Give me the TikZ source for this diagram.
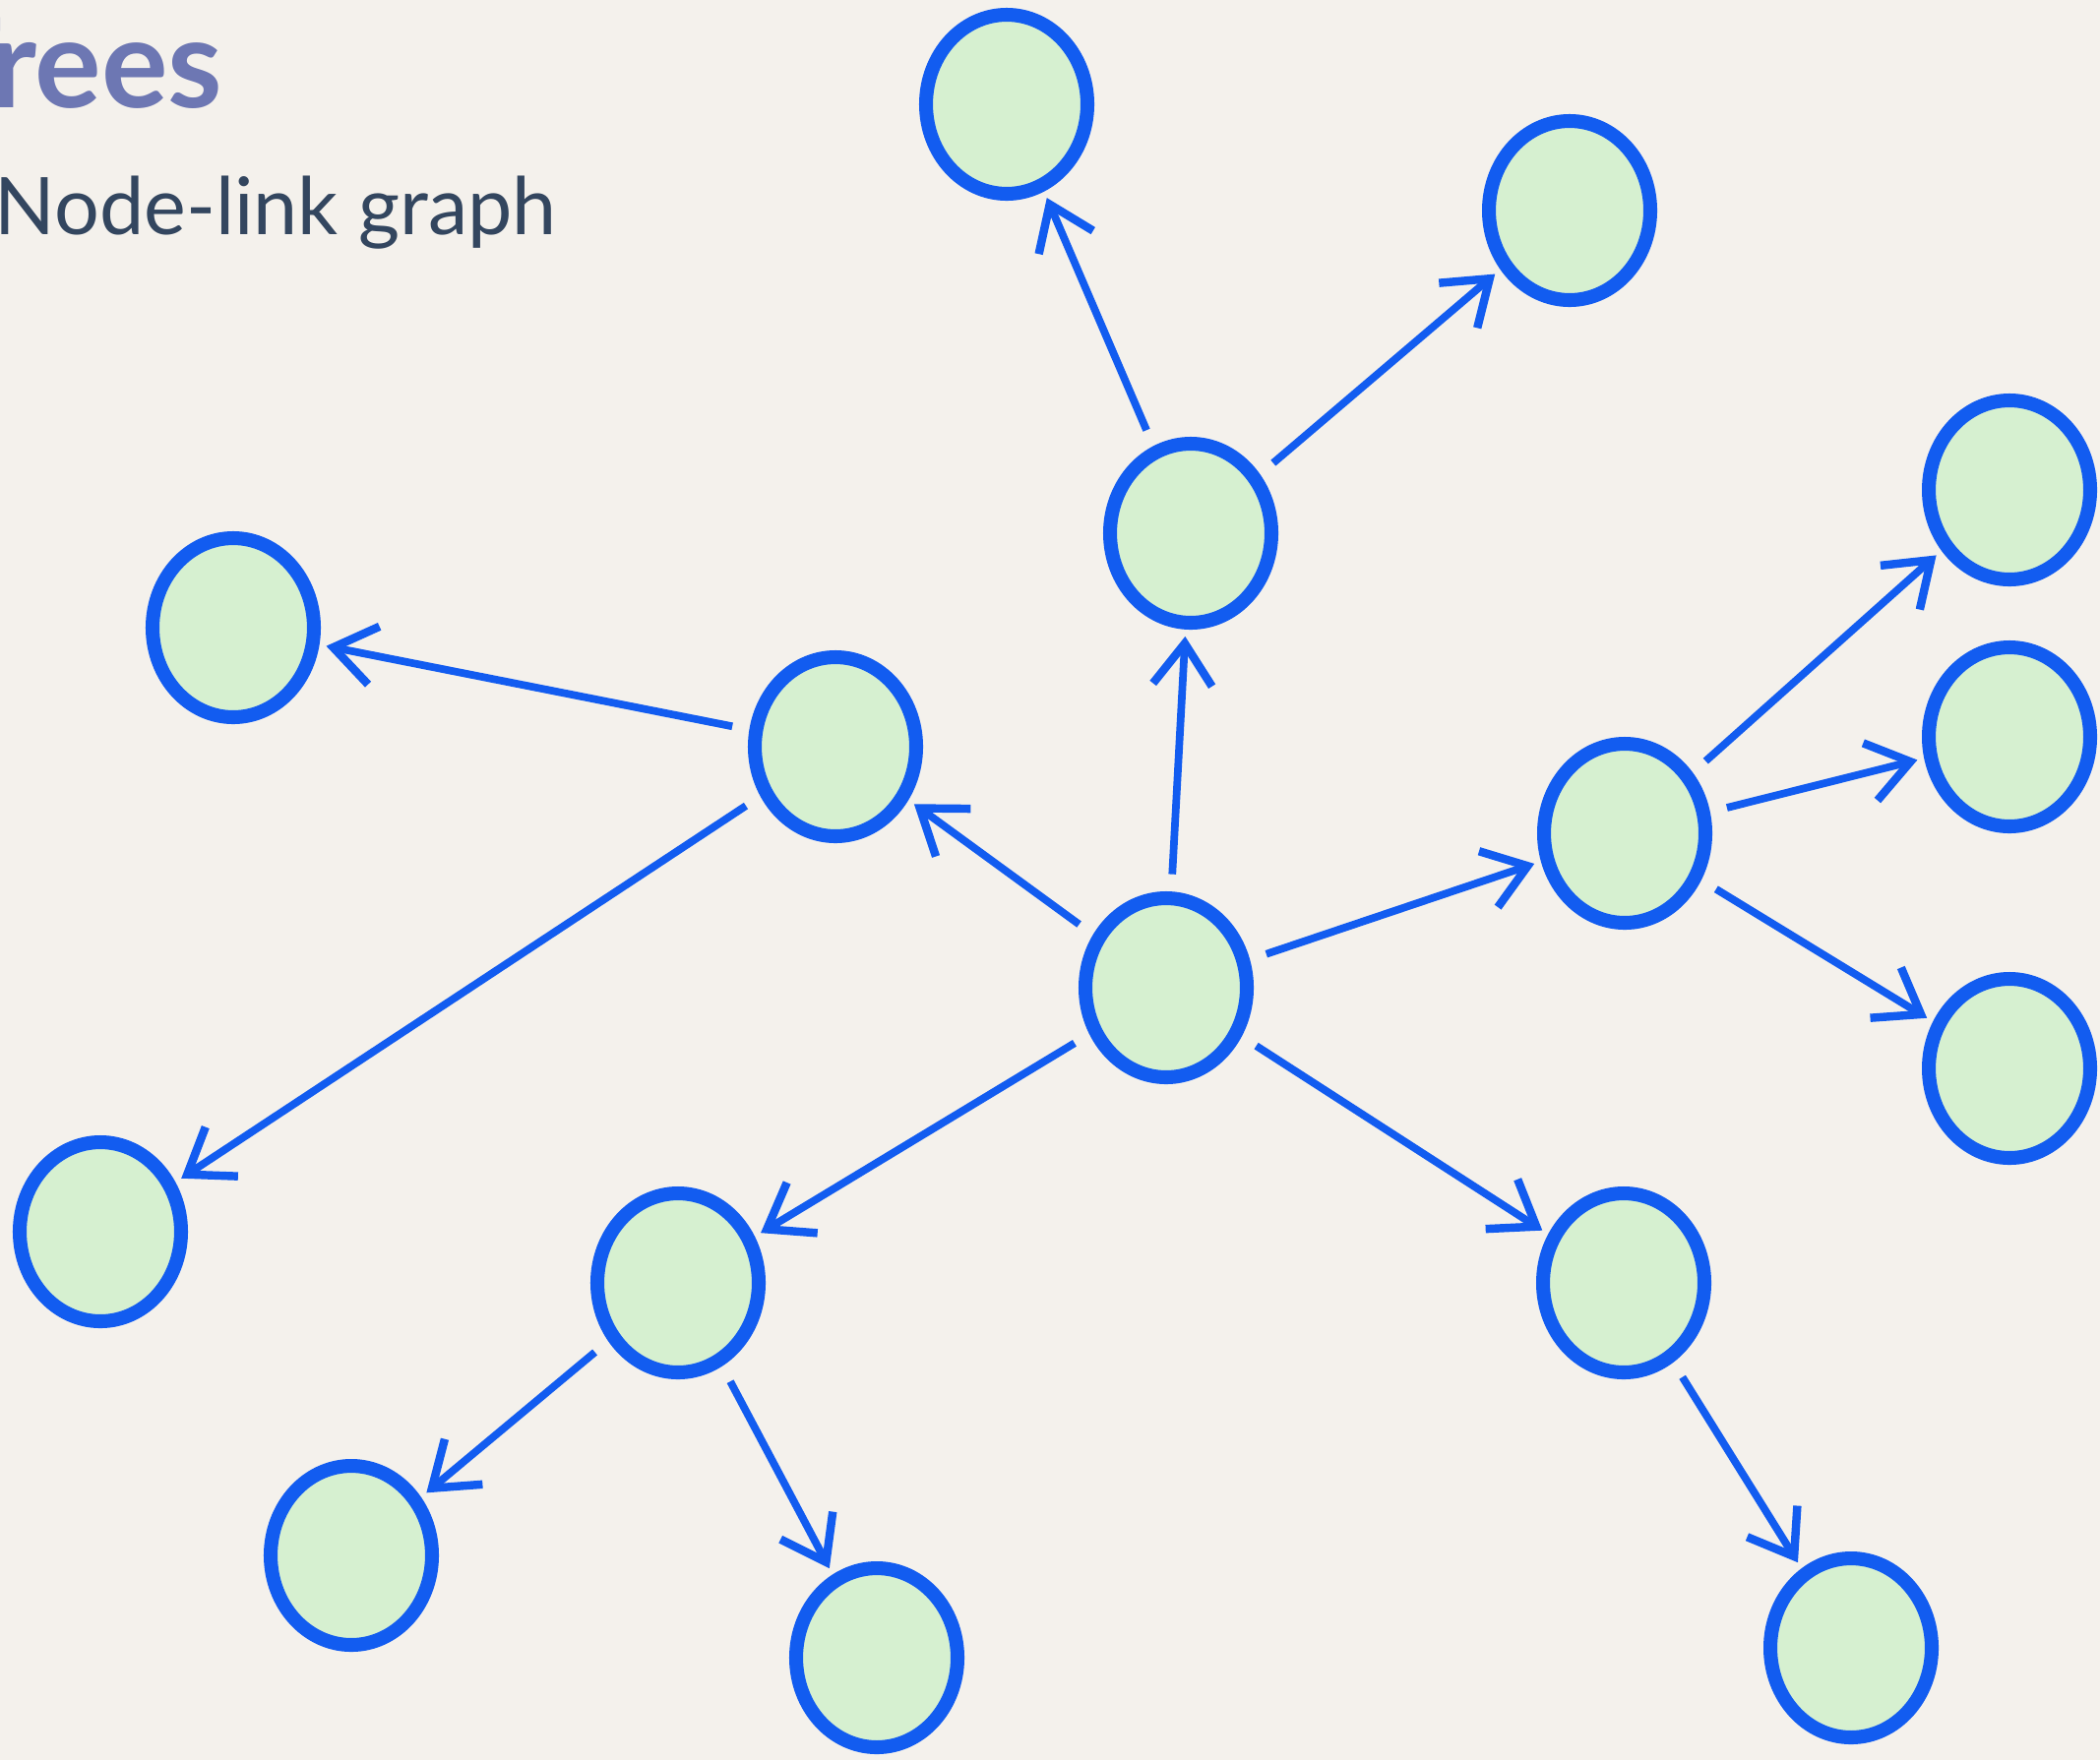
\documentclass[tikz,border=0pt]{standalone}
\usepackage{fontspec}
\setmainfont{Lato}
\usepackage[dvipsnames]{xcolor}
\usetikzlibrary{shapes.geometric,arrows.meta}
\definecolor{paper}{RGB}{244,241,236}
\definecolor{leaf}{RGB}{214,240,208}
\definecolor{ink}{RGB}{18,92,240}
\definecolor{heading}{RGB}{109,119,179}
\definecolor{slate}{RGB}{51,70,95}
\begin{document}
\begin{tikzpicture}[->,>={Straight Barb[length=4.2mm,width=6mm,line width=2.4pt]},shorten >=2pt,shorten <=5pt,line width=2.2pt,main node/.style={ellipse,draw=ink,fill=leaf,line width=4pt,minimum width=1.64cm,minimum height=1.82cm,inner sep=0pt}]
                \useasboundingbox (0,0) rectangle (21.34,-17.89);
                \fill[paper] (0,0) rectangle (21.34,-17.89);
                \clip (0,0) rectangle (21.34,-17.89);
                \node[anchor=base east,text=heading,font=\fontsize{36}{42}\selectfont\bfseries,inner sep=0pt] (title) at (2.30,-1.09) {Trees};
                \node[anchor=base west,text=slate,font=\fontsize{23}{28}\selectfont,inner sep=0pt] (sub) at (-0.09,-2.38) {Node-link graph};

                \node[main node] (1) at (10.23,-1.06) {};
                \node[main node] (2) at (15.95,-2.14) {};
                \node[main node] (3) at (12.10,-5.42) {};
                \node[main node] (4) at (2.37,-6.38) {};
                \node[main node] (5) at (8.49,-7.59) {};
                \node[main node] (6) at (20.42,-4.98) {};
                \node[main node] (7) at (20.42,-7.49) {};
                \node[main node] (8) at (16.51,-8.47) {};
                \node[main node] (9) at (11.85,-10.04) {};
                \node[main node] (10) at (20.42,-10.86) {};
                \node[main node] (11) at (1.02,-12.52) {};
                \node[main node] (12) at (6.89,-13.04) {};
                \node[main node] (13) at (16.50,-13.04) {};
                \node[main node] (14) at (3.57,-15.81) {};
                \node[main node] (15) at (8.91,-16.85) {};
                \node[main node] (16) at (18.81,-16.75) {};

                \path[draw=ink]
                    (9) edge (5)
                    (9) edge (3)
                    (9) edge (8)
                    (9) edge (12)
                    (9) edge (13)
                    (3) edge (1)
                    (3) edge (2)
                    (5) edge (4)
                    (5) edge (11)
                    (8) edge (6)
                    (8) edge (7)
                    (8) edge (10)
                    (12) edge (14)
                    (12) edge (15)
                    (13) edge (16)
                    ;
            \end{tikzpicture}
\end{document}
